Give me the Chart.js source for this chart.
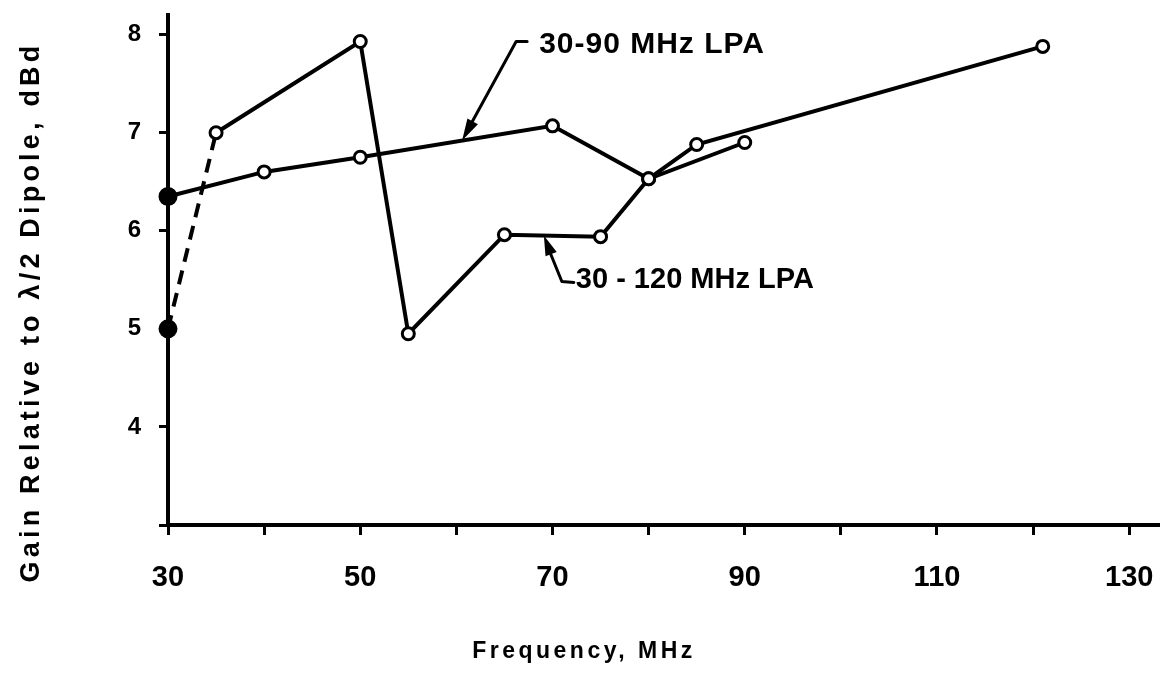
<!DOCTYPE html>
<html>
<head>
<meta charset="utf-8">
<title>LPA Gain vs Frequency</title>
<script src="https://cdn.jsdelivr.net/npm/chart.js@4/dist/chart.umd.min.js"></script>
<style>
  html, body { margin: 0; padding: 0; background: #fff; }
  #wrap { width: 1160px; height: 677px; }
</style>
</head>
<body>
<div id="wrap"><canvas id="c" width="1160" height="677"></canvas></div>
<script>
// Measured gain of the two log-periodic antennas
const freq90 = [30, 40, 50, 70, 80, 90];
const gain90 = [6.35, 6.6, 6.75, 7.07, 6.53, 6.9];

const freq120 = [30, 35, 50, 55, 65, 75, 80, 85, 121];
const gain120 = [5.0, 7.0, 7.93, 4.95, 5.96, 5.94, 6.53, 6.88, 7.88];

// Axis ticks (marks) and the ones that carry a label
const xTickValues = [30, 40, 50, 60, 70, 80, 90, 100, 110, 120, 130];
const xLabeledTicks = [30, 50, 70, 90, 110, 130];
const yTickValues = [3, 4, 5, 6, 7, 8];
const yLabeledTicks = [4, 5, 6, 7, 8];

const seriesNames = ['30-90 MHz LPA', '30 - 120 MHz LPA'];
const xTitle = 'Frequency, MHz';
const yTitle = 'Gain Relative to \u03BB/2 Dipole, dBd';

const FONT = '"Liberation Sans", Arial, Helvetica, sans-serif';

function toPoints(xs, ys) {
  return xs.map((v, i) => ({ x: v, y: ys[i] }));
}

// value on a polyline at a given x
function valueAt(xs, ys, xv) {
  for (let i = 0; i < xs.length - 1; i++) {
    if (xv >= xs[i] && xv <= xs[i + 1]) {
      const t = (xv - xs[i]) / (xs[i + 1] - xs[i]);
      return ys[i] + t * (ys[i + 1] - ys[i]);
    }
  }
  return ys[ys.length - 1];
}

function arrowHead(ctx, fromX, fromY, tipX, tipY, len, half) {
  const a = Math.atan2(tipY - fromY, tipX - fromX);
  ctx.beginPath();
  ctx.moveTo(tipX, tipY);
  ctx.lineTo(tipX - len * Math.cos(a) + half * Math.sin(a), tipY - len * Math.sin(a) - half * Math.cos(a));
  ctx.lineTo(tipX - len * Math.cos(a) - half * Math.sin(a), tipY - len * Math.sin(a) + half * Math.cos(a));
  ctx.closePath();
  ctx.fill();
}

// axis titles and the callout labels with leader arrows
const calloutPlugin = {
  id: 'callouts',
  afterDraw(chart) {
    const { ctx, scales } = chart;
    const x = scales.x, y = scales.y;
    ctx.save();
    ctx.fillStyle = '#000';
    ctx.strokeStyle = '#000';
    ctx.lineWidth = 3;
    ctx.lineCap = 'round';
    ctx.lineJoin = 'round';

    // 30-90 MHz callout
    const f1 = 60.6;
    const t1x = x.getPixelForValue(f1);
    const t1y = y.getPixelForValue(valueAt(freq90, gain90, f1));
    const b1x = t1x + 54, b1y = t1y - 99;
    ctx.beginPath();
    ctx.moveTo(t1x + 8, t1y - 15);
    ctx.lineTo(b1x, b1y);
    ctx.lineTo(b1x + 11, b1y);
    ctx.stroke();
    arrowHead(ctx, b1x, b1y, t1x, t1y, 22, 6);
    ctx.font = 'bold 30px ' + FONT;
    ctx.letterSpacing = '1px';
    ctx.textAlign = 'left';
    ctx.textBaseline = 'middle';
    ctx.fillText(seriesNames[0], t1x + 77, t1y - 96);

    // 30-120 MHz callout
    const f2 = 69.1;
    const t2x = x.getPixelForValue(f2);
    const t2y = y.getPixelForValue(valueAt(freq120, gain120, f2));
    const b2x = t2x + 18, b2y = t2y + 46;
    ctx.beginPath();
    ctx.moveTo(t2x + 5, t2y + 14);
    ctx.lineTo(b2x, b2y);
    ctx.lineTo(b2x + 12, b2y + 1);
    ctx.stroke();
    arrowHead(ctx, b2x, b2y, t2x, t2y, 20, 6);
    ctx.font = 'bold 29px ' + FONT;
    ctx.letterSpacing = '0px';
    ctx.fillText(seriesNames[1], t2x + 32, t2y + 45);

    // x axis title
    ctx.font = 'bold 23px ' + FONT;
    ctx.letterSpacing = '3.5px';
    ctx.textAlign = 'center';
    ctx.fillText(xTitle, 584, 652);

    // y axis title
    ctx.translate(32, 312);
    ctx.rotate(-Math.PI / 2);
    ctx.font = 'bold 27px ' + FONT;
    ctx.letterSpacing = '4.2px';
    ctx.fillText(yTitle, 0, 0);
    ctx.restore();
  }
};

const ctx = document.getElementById('c').getContext('2d');
new Chart(ctx, {
  type: 'line',
  data: {
    datasets: [
      {
        label: seriesNames[0],
        data: toPoints(freq90, gain90),
        borderColor: '#000',
        borderWidth: 4,
        pointRadius: freq90.map((_, i) => i === 0 ? 8 : 6),
        pointBorderWidth: 3,
        pointBorderColor: '#000',
        pointBackgroundColor: freq90.map((_, i) => i === 0 ? '#000' : '#fff'),
        tension: 0,
        clip: false
      },
      {
        label: seriesNames[1],
        data: toPoints(freq120, gain120),
        borderColor: '#000',
        borderWidth: 4,
        pointRadius: freq120.map((_, i) => i === 0 ? 8 : 6),
        pointBorderWidth: 3,
        pointBorderColor: '#000',
        pointBackgroundColor: freq120.map((_, i) => i === 0 ? '#000' : '#fff'),
        tension: 0,
        clip: false,
        segment: {
          borderDash: c => c.p0DataIndex === 0 ? [14, 9] : undefined
        }
      }
    ]
  },
  options: {
    responsive: false,
    animation: false,
    devicePixelRatio: 1,
    layout: { autoPadding: false, padding: { top: 15, left: 0, right: 0, bottom: 0 } },
    plugins: {
      legend: { display: false },
      tooltip: { enabled: false },
      title: { display: false }
    },
    scales: {
      x: {
        type: 'linear',
        min: 30,
        max: 133.2,
        afterBuildTicks: s => { s.ticks = xTickValues.map(v => ({ value: v })); },
        afterFit: s => { s.height = 152; s.paddingLeft = 0; s.paddingRight = 0; },
        ticks: {
          autoSkip: false,
          maxRotation: 0,
          padding: 26,
          color: '#000',
          font: { family: FONT, size: 29, weight: 'bold' },
          callback: v => xLabeledTicks.includes(v) ? String(v) : ''
        },
        grid: {
          drawOnChartArea: false,
          drawTicks: true,
          tickLength: 10,
          tickWidth: 3,
          color: '#000'
        },
        border: { display: true, color: '#000', width: 4 },
        title: { display: false }
      },
      y: {
        type: 'linear',
        min: 3,
        max: 8.2,
        afterBuildTicks: s => { s.ticks = yTickValues.map(v => ({ value: v })); },
        afterFit: s => { s.width = 168; s.paddingTop = 0; s.paddingBottom = 0; },
        ticks: {
          padding: 18,
          color: '#000',
          font: { family: FONT, size: 24, weight: 'bold' },
          callback: v => yLabeledTicks.includes(v) ? String(v) : ''
        },
        grid: {
          drawOnChartArea: false,
          drawTicks: true,
          tickLength: 9,
          tickWidth: 3,
          color: '#000'
        },
        border: { display: true, color: '#000', width: 4 },
        title: { display: false }
      }
    }
  },
  plugins: [calloutPlugin]
});
</script>
</body>
</html>
